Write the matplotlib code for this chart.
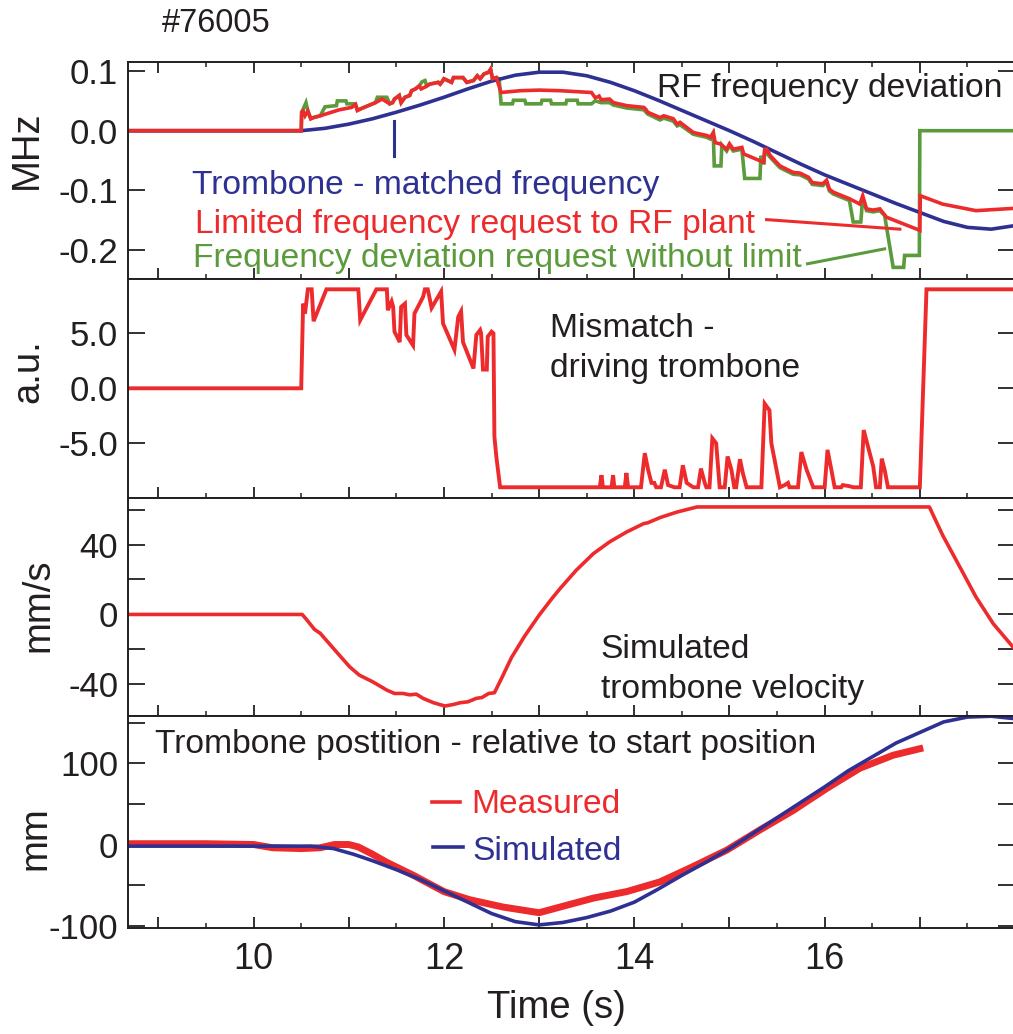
import matplotlib
matplotlib.use("Agg")
import matplotlib.pyplot as plt
from matplotlib.ticker import MultipleLocator, FuncFormatter, FixedLocator, FixedFormatter
from matplotlib.lines import Line2D

plt.rcParams['font.family'] = ['Liberation Sans', 'DejaVu Sans']

# ---- data ----
# panel 1: RF frequency deviation (MHz)
t_match = [8.68, 10.5, 10.75, 11.0, 11.25, 11.5, 11.75, 12.0, 12.25, 12.5,
           12.75, 13.0, 13.25, 13.5, 13.75, 14.0, 14.25, 14.5, 14.75, 15.0,
           15.25, 15.5, 15.75, 16.0, 16.25, 16.5, 16.75, 17.0, 17.25, 17.5,
           17.75, 18.0]
f_match = [0, 0, 0.004, 0.011, 0.020, 0.031, 0.043, 0.056, 0.070, 0.083,
           0.093, 0.098, 0.098, 0.092, 0.081, 0.067, 0.051, 0.034, 0.017, 0.000,
           -0.018, -0.037, -0.056, -0.074, -0.090, -0.106, -0.122, -0.137, -0.152, -0.162,
           -0.165, -0.159]

t_lim = [8.68, 10.50, 10.505, 10.52, 10.54, 10.57, 10.60, 10.63, 10.70, 10.90,
         11.03, 11.07, 11.09, 11.13, 11.28, 11.35, 11.38, 11.43, 11.46, 11.48,
         11.53, 11.55, 11.59, 11.64, 11.66, 11.70, 11.74, 11.76, 11.80, 11.85,
         11.94, 11.96, 11.98, 12.00, 12.08, 12.10, 12.20, 12.24, 12.31, 12.35,
         12.38, 12.42, 12.47, 12.49, 12.51, 12.55, 12.60, 12.80, 13.00, 13.22,
         13.55, 13.59, 13.63, 13.65, 13.74, 13.78, 13.92, 14.10, 14.12, 14.14,
         14.27, 14.31, 14.41, 14.45, 14.48, 14.62, 14.76, 14.80, 14.83, 14.85,
         14.90, 14.97, 15.00, 15.04, 15.13, 15.15, 15.36, 15.37, 15.39, 15.43,
         15.53, 15.67, 15.74, 15.83, 15.87, 15.98, 16.02, 16.05, 16.09, 16.26,
         16.37, 16.40, 16.44, 16.51, 16.58, 16.65, 17.00, 17.005, 17.24, 17.59,
         18.0]
f_lim = [0, 0, 0.031, 0.033, 0.025, 0.033, 0.020, 0.022, 0.025, 0.035,
         0.039, 0.044, 0.034, 0.037, 0.047, 0.053, 0.050, 0.045, 0.047, 0.053,
         0.059, 0.047, 0.056, 0.059, 0.067, 0.070, 0.075, 0.070, 0.073, 0.078,
         0.081, 0.078, 0.082, 0.087, 0.081, 0.089, 0.089, 0.081, 0.084, 0.092,
         0.087, 0.095, 0.098, 0.103, 0.087, 0.089, 0.064, 0.067, 0.068, 0.067,
         0.064, 0.055, 0.058, 0.052, 0.053, 0.047, 0.042, 0.039, 0.036, 0.031,
         0.022, 0.025, 0.020, 0.011, 0.014, -0.003, -0.008, -0.011, -0.003, -0.020,
         -0.022, -0.031, -0.022, -0.031, -0.028, -0.039, -0.053, -0.031, -0.031, -0.042,
         -0.059, -0.070, -0.071, -0.078, -0.087, -0.089, -0.083, -0.098, -0.103, -0.114,
         -0.123, -0.109, -0.131, -0.133, -0.131, -0.145, -0.167, -0.109, -0.123, -0.134,
         -0.130]

t_req = [8.68, 10.50, 10.505, 10.52, 10.55, 10.57, 10.60, 10.63, 10.70, 10.75,
         10.87, 10.88, 10.97, 10.98, 11.07, 11.09, 11.13, 11.28, 11.30, 11.40,
         11.43, 11.46, 11.48, 11.53, 11.55, 11.59, 11.64, 11.66, 11.70, 11.74,
         11.77, 11.80, 11.82, 11.85, 11.94, 11.96, 11.98, 12.00, 12.08, 12.10,
         12.20, 12.24, 12.31, 12.35, 12.38, 12.42, 12.47, 12.49, 12.51, 12.55,
         12.58, 12.60, 12.72, 12.73, 12.85, 12.86, 13.02, 13.03, 13.12, 13.13,
         13.28, 13.29, 13.40, 13.41, 13.55, 13.59, 13.65, 13.74, 13.78, 13.92,
         14.10, 14.14, 14.27, 14.31, 14.41, 14.45, 14.48, 14.62, 14.76, 14.80,
         14.83, 14.84, 14.91, 14.92, 14.97, 15.00, 15.04, 15.13, 15.16, 15.32,
         15.33, 15.36, 15.37, 15.43, 15.53, 15.67, 15.74, 15.83, 15.87, 15.98,
         16.02, 16.05, 16.09, 16.26, 16.30, 16.38, 16.40, 16.44, 16.51, 16.58,
         16.63, 16.72, 16.83, 16.84, 16.995, 17.00, 18.0]
f_req = [0, 0, 0.031, 0.036, 0.047, 0.033, 0.020, 0.022, 0.025, 0.040,
         0.042, 0.050, 0.050, 0.045, 0.045, 0.034, 0.037, 0.047, 0.056, 0.056,
         0.045, 0.047, 0.053, 0.059, 0.047, 0.056, 0.059, 0.067, 0.070, 0.075,
         0.082, 0.084, 0.075, 0.078, 0.081, 0.078, 0.082, 0.087, 0.081, 0.089,
         0.089, 0.081, 0.084, 0.092, 0.087, 0.095, 0.098, 0.103, 0.087, 0.089,
         0.087, 0.045, 0.045, 0.051, 0.051, 0.045, 0.045, 0.051, 0.051, 0.045,
         0.045, 0.051, 0.051, 0.045, 0.045, 0.050, 0.047, 0.047, 0.043, 0.038,
         0.035, 0.028, 0.018, 0.021, 0.016, 0.008, 0.010, -0.006, -0.011, -0.014,
         -0.006, -0.059, -0.059, -0.024, -0.034, -0.025, -0.034, -0.031, -0.080, -0.080,
         -0.042, -0.056, -0.034, -0.045, -0.062, -0.073, -0.074, -0.081, -0.090, -0.092,
         -0.086, -0.101, -0.106, -0.117, -0.153, -0.153, -0.112, -0.134, -0.136, -0.134,
         -0.142, -0.229, -0.229, -0.209, -0.209, 0.0, 0.0]

# leader lines from the labels to the curves
lead_blue_t, lead_blue_f = [11.47, 11.47], [0.0168, -0.043]
lead_red_t, lead_red_f = [15.39, 16.79], [-0.149, -0.165]
lead_green_t, lead_green_f = [15.82, 16.63], [-0.223, -0.198]

# panel 2: mismatch (a.u.)
t_mis = [8.68, 10.50, 10.52, 10.54, 10.57, 10.61, 10.63, 10.765, 11.10, 11.12,
         11.29, 11.40, 11.41, 11.45, 11.466, 11.48, 11.535, 11.55, 11.59, 11.605,
         11.675, 11.69, 11.78, 11.80, 11.83, 11.87, 11.97, 11.99, 12.11, 12.15,
         12.18, 12.20, 12.31, 12.34, 12.38, 12.39, 12.41, 12.45, 12.46, 12.50,
         12.52, 12.53, 12.55, 12.59, 13.637, 13.655, 13.67, 13.76, 13.777, 13.79,
         13.90, 13.917, 13.935, 14.07, 14.11, 14.145, 14.18, 14.21, 14.23, 14.28,
         14.32, 14.355, 14.42, 14.476, 14.51, 14.55, 14.62, 14.67, 14.70, 14.74,
         14.757, 14.79, 14.82, 14.86, 14.897, 14.95, 14.98, 15.02, 15.05, 15.07,
         15.11, 15.14, 15.18, 15.335, 15.37, 15.42, 15.44, 15.53, 15.58, 15.615,
         15.63, 15.72, 15.755, 15.81, 15.88, 16.00, 16.03, 16.07, 16.105, 16.175,
         16.19, 16.26, 16.30, 16.38, 16.41, 16.51, 16.54, 16.58, 16.60, 16.63,
         16.665, 17.00, 17.07, 18.0]
mis = [0, 0, 7.7, 6.8, 9, 9, 6.1, 9, 9, 6.2,
       9, 9, 7.1, 7.9, 7.4, 5.15, 4.2, 7.4, 7.7, 4.85,
       3.9, 6.8, 8.3, 9, 9, 7.3, 8.8, 5.9, 3.5, 6.5,
       7.0, 4.2, 1.8, 4.85, 5.3, 5.0, 1.7, 1.7, 4.7, 5.15,
       5.0, -4.4, -6.2, -9, -9, -7.9, -9, -9, -7.9, -9,
       -9, -7.7, -9, -9, -5.9, -7.4, -8.6, -8.6, -9, -9,
       -7.4, -8.8, -9, -9, -7.0, -8.6, -9, -9, -7.3, -8.6,
       -9, -9, -4.55, -5.0, -9, -9, -6.2, -7.4, -9, -9,
       -6.45, -7.7, -9, -9, -1.4, -2.0, -5.0, -9, -8.8, -8.6,
       -9, -9, -5.8, -7.4, -9, -9, -5.6, -7.4, -9, -9,
       -8.8, -8.9, -9, -9, -3.8, -7.1, -9, -9, -6.4, -7.4,
       -9, -9, 9, 9]

# panel 3: simulated trombone velocity (mm/s)
t_vel = [8.68, 10.51, 10.55, 10.64, 10.70, 10.87, 11.01, 11.11, 11.25, 11.40,
         11.48, 11.57, 11.64, 11.71, 11.78, 11.89, 12.01, 12.10, 12.17, 12.25,
         12.34, 12.40, 12.47, 12.53, 12.61, 12.71, 12.85, 13.00, 13.14, 13.22,
         13.39, 13.57, 13.74, 13.92, 14.10, 14.14, 14.27, 14.45, 14.66, 17.10,
         17.24, 17.42, 17.59, 17.77, 18.0]
vel = [0, 0, -2.5, -8.6, -10.8, -21.4, -30, -34.7, -38.5, -43.3,
       -45.2, -45.2, -46, -45.6, -48, -50.5, -52.4, -51.5, -50.5, -50,
       -48, -47.5, -45.2, -44.8, -36, -24.6, -12.2, -0.4, 9.5, 14.8,
       25.3, 34.8, 41.5, 47.2, 52.0, 52.4, 55.4, 58.6, 61.5, 61.5,
       45.3, 27.2, 10.0, -5.2, -20]

# panel 4: trombone position (mm)
t_sim = [8.68, 10.6, 10.84, 11.05, 11.25, 11.5, 11.75, 12.0, 12.25, 12.5,
         12.75, 13.0, 13.25, 13.5, 13.75, 14.0, 14.25, 14.5, 14.75, 15.0,
         15.25, 15.5, 15.75, 16.0, 16.25, 16.5, 16.75, 17.0, 17.25, 17.5,
         17.75, 18.0]
pos_sim = [-2, -2, -5, -12, -20, -31, -43, -57, -71, -85,
           -95, -99, -96, -90, -82, -71, -55, -38, -22, -5,
           14, 33, 52, 71, 91, 108, 125, 138, 151, 157,
           158, 155]
t_meas = [8.68, 9.5, 10.0, 10.2, 10.5, 10.7, 10.85, 11.0, 11.1, 11.25,
          11.4, 11.68, 12.0, 12.27, 12.62, 13.0, 13.22, 13.57, 13.92, 14.27,
          14.62, 14.97, 15.32, 15.67, 16.02, 16.37, 16.72, 17.0]
pos_meas = [1, 1, 0, -4, -5, -4, 0, 0, -3, -12,
            -22, -38, -58, -68, -77, -84, -77, -66, -58, -46,
            -27, -7, 18, 42, 69, 94, 110, 118]

RED = '#ED2B2C'
BLUE = '#2E3192'
GREEN = '#5B9B3C'
INK = '#231F20'

W, H = 1013, 1034
fig = plt.figure(figsize=(W / 100, H / 100), dpi=100)


def fxy(x, y):
    return x / W, 1 - y / H


def panel(top, bottom):
    left, right = 128, 1015
    return fig.add_axes([left / W, 1 - bottom / H, (right - left) / W, (bottom - top) / H])


ax1 = panel(61.7, 279.3)
ax2 = panel(279.3, 497.5)
ax3 = panel(497.5, 716.0)
ax4 = panel(716.0, 928.3)

# curves
ax1.plot(t_req, f_req, color=GREEN, lw=2.6, solid_joinstyle='miter')
ax1.plot(t_match, f_match, color=BLUE, lw=2.6)
ax1.plot(t_lim, f_lim, color=RED, lw=2.6, solid_joinstyle='miter')
ax1.plot(lead_blue_t, lead_blue_f, color=BLUE, lw=2.2)
ax1.plot(lead_red_t, lead_red_f, color=RED, lw=2.2)
ax1.plot(lead_green_t, lead_green_f, color=GREEN, lw=2.2)

ax2.plot(t_mis, mis, color=RED, lw=2.8, solid_joinstyle='miter')
ax3.plot(t_vel, vel, color=RED, lw=2.6)
ax4.plot(t_meas, pos_meas, color=RED, lw=5.0)
ax4.plot(t_sim, pos_sim, color=BLUE, lw=2.6)

ax1.set_ylim(-0.249, 0.1156)
ax2.set_ylim(-9.93, 9.91)
ax3.set_ylim(-58.1, 66.9)
ax4.set_ylim(-103.2, 158.3)

yticks = {
    ax1: ([0.1, 0.0, -0.1, -0.2], ['0.1', '0.0', '-0.1', '-0.2']),
    ax2: ([5, 0, -5], ['5.0', '0.0', '-5.0']),
    ax3: ([60, 40, 20, 0, -20, -40], ['', '40', '', '0', '', '-40']),
    ax4: ([150, 100, 50, 0, -50, -100], ['', '100', '', '0', '', '-100']),
}

for ax in (ax1, ax2, ax3, ax4):
    ax.set_xlim(8.68, 18.0)
    for s in ax.spines.values():
        s.set_linewidth(1.4)
        s.set_color(INK)
    ax.xaxis.set_major_locator(MultipleLocator(1))
    ax.xaxis.set_minor_locator(MultipleLocator(0.5))
    ax.tick_params(axis='x', which='major', direction='in', length=8, width=1.3,
                   top=(ax is ax1), bottom=True, color=INK)
    ax.tick_params(axis='x', which='minor', direction='in', length=3.5, width=1.1,
                   top=(ax is ax1), bottom=True, color=INK)
    ax.tick_params(axis='y', which='major', direction='in', length=12, width=1.3,
                   left=True, right=True, color=INK, labelsize=25, pad=7,
                   labelcolor=INK)
    ax.yaxis.set_major_locator(FixedLocator(yticks[ax][0]))
    ax.yaxis.set_major_formatter(FixedFormatter(yticks[ax][1]))
    if ax is not ax4:
        ax.tick_params(axis='x', labelbottom=False)


def even_label(v, p):
    n = round(v)
    if abs(v - n) < 1e-6 and n % 2 == 0 and n <= 16:
        return '%d' % n
    return ''


ax4.xaxis.set_major_formatter(FuncFormatter(even_label))
ax4.tick_params(axis='x', which='major', labelsize=26, pad=10, labelcolor=INK)

# texts
def ftext(x, y, s, **kw):
    kw.setdefault('color', INK)
    kw.setdefault('fontsize', 24.2)
    kw.setdefault('va', 'baseline')
    fig.text(*fxy(x, y), s, **kw)


ftext(161.7, 32.3, '#76005', fontsize=23.5)
ftext(1002, 96.7, 'RF frequency deviation', ha='right')
ftext(191.7, 194.0, 'Trombone - matched frequency', color=BLUE)
ftext(195.0, 232.7, 'Limited frequency request to RF plant', color=RED)
ftext(192.7, 266.7, 'Frequency deviation request without limit', color=GREEN)
ftext(550, 336.7, 'Mismatch -')
ftext(550, 376.7, 'driving trombone')
ftext(600.7, 658.3, 'Simulated')
ftext(600.7, 698.3, 'trombone velocity')
ftext(155, 753.3, 'Trombone postition - relative to start position')
ftext(471.7, 813.3, 'Measured', color=RED)
ftext(472, 860.0, 'Simulated', color=BLUE)

fig.add_artist(Line2D([431.7 / W, 460 / W], [1 - 801.7 / H] * 2, color=RED, lw=2.6))
fig.add_artist(Line2D([433.3 / W, 463 / W], [1 - 846.7 / H] * 2, color=BLUE, lw=2.6))

# axis labels
for x, y, s in [(27, 150, 'MHz'), (28, 371, 'a.u.'), (38, 605, 'mm/s'), (35, 838, 'mm')]:
    fig.text(*fxy(x, y), s, rotation=90, ha='center', va='center', fontsize=27.5, color=INK)
fig.text(*fxy(556, 1008), 'Time (s)', ha='center', va='center', fontsize=27.5, color=INK)

fig.savefig('out.png', dpi=100)
